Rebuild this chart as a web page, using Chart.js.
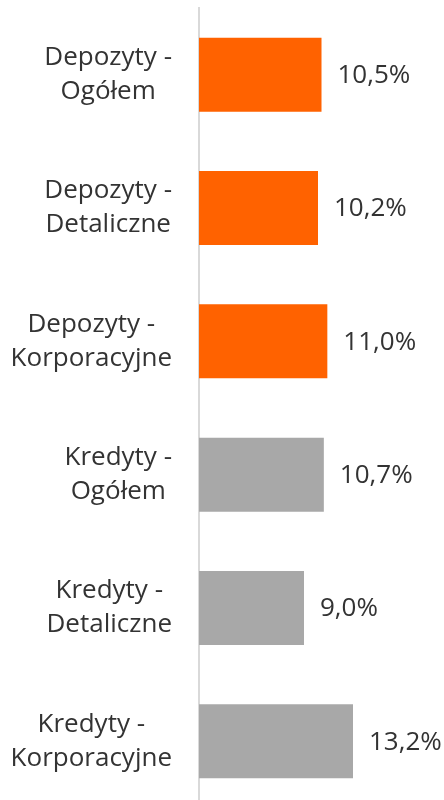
<!DOCTYPE html>
<html>
<head>
<meta charset="utf-8">
<script src="https://cdn.jsdelivr.net/npm/chart.js@4"></script>
<style>
html,body{margin:0;padding:0;background:#fff;overflow:hidden;}
#wrap{position:relative;width:444px;height:808px;}
</style>
</head>
<body>
<div id="wrap"><canvas id="c"></canvas></div>
<script>
const categories = [
  ["Depozyty -", "Ogółem"],
  ["Depozyty -", "Detaliczne"],
  ["Depozyty -", "Korporacyjne"],
  ["Kredyty -", "Ogółem"],
  ["Kredyty -", "Detaliczne"],
  ["Kredyty -", "Korporacyjne"]
];
const values = [10.5, 10.2, 11.0, 10.7, 9.0, 13.2];
const barColors = ["#FF6200", "#FF6200", "#FF6200", "#A8A8A8", "#A8A8A8", "#A8A8A8"];

const FONT = "'Open Sans', sans-serif";
const TEXT = "#333333";

const valueLabels = {
  id: 'valueLabels',
  afterDatasetsDraw(chart) {
    const ctx = chart.ctx;
    const meta = chart.getDatasetMeta(0);
    ctx.save();
    ctx.font = "26px " + FONT;
    ctx.fillStyle = TEXT;
    ctx.textAlign = 'left';
    ctx.textBaseline = 'middle';
    meta.data.forEach((bar, i) => {
      const txt = values[i].toFixed(1).replace('.', ',') + '%';
      ctx.fillText(txt, bar.x + 16, bar.y + 1);
    });
    // category labels: block right-aligned to the axis, lines centred within block
    const y = chart.scales.y;
    ctx.textAlign = 'center';
    const rightEdge = y.right - 27;
    categories.forEach((lines, i) => {
      const cy = y.getPixelForTick(i);
      let maxW = 0;
      lines.forEach(l => { maxW = Math.max(maxW, ctx.measureText(l).width); });
      const cx = rightEdge - maxW / 2;
      lines.forEach((l, j) => {
        ctx.fillText(l, cx, cy + (j - (lines.length - 1) / 2) * 34);
      });
    });
    ctx.restore();
  }
};

new Chart(document.getElementById('c'), {
  type: 'bar',
  data: {
    labels: categories,
    datasets: [{
      data: values,
      backgroundColor: barColors,
      borderWidth: 0,
      categoryPercentage: 1,
      barPercentage: 0.555
    }]
  },
  options: {
    indexAxis: 'y',
    responsive: true,
    maintainAspectRatio: false,
    animation: false,
    layout: { padding: { top: 8, bottom: 0, left: 0, right: 0 } },
    plugins: { legend: { display: false }, tooltip: { enabled: false } },
    scales: {
      x: { display: false, min: 0, max: 21 },
      y: {
        afterFit(scale) {
          scale.width = 199;
          scale.paddingTop = 0;
          scale.paddingBottom = 0;
        },
        grid: { display: false, drawTicks: false },
        border: { display: true, color: '#D9D9D9', width: 2 },
        ticks: { display: false }
      }
    }
  },
  plugins: [valueLabels]
});
</script>
</body>
</html>
